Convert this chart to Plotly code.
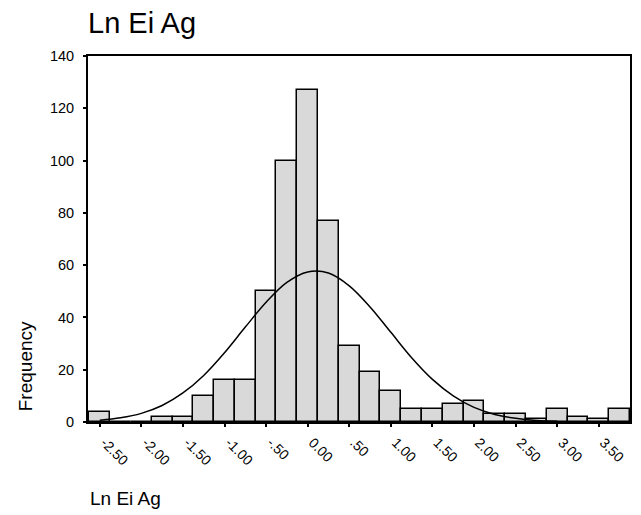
import plotly.graph_objects as go

# Histogram bins (centres) and frequencies
bin_centers = [-2.50, -2.25, -2.00, -1.75, -1.50, -1.25, -1.00, -0.75, -0.50, -0.25,
               0.00, 0.25, 0.50, 0.75, 1.00, 1.25, 1.50, 1.75, 2.00, 2.25,
               2.50, 2.75, 3.00, 3.25, 3.50, 3.75]
frequencies = [4, 0, 0, 2, 2, 10, 16, 16, 50, 100,
               127, 77, 29, 19, 12, 5, 5, 7, 8, 3,
               3, 1, 5, 2, 1, 5]
bin_width = 0.25

# Normal curve
curve_x = [-2.50, -2.25, -2.00, -1.75, -1.50, -1.25, -1.00, -0.75, -0.50, -0.25,
           0.00, 0.25, 0.50, 0.75, 1.00, 1.25, 1.50, 1.75, 2.00, 2.25,
           2.50, 2.75, 3.00]
curve_y = [0.7, 1.6, 3.3, 6.3, 11.1, 17.8, 26.5, 36.3, 45.8, 53.4,
           57.4, 57.0, 52.1, 44.0, 34.3, 24.6, 16.3, 10.0, 5.6, 2.9,
           1.4, 0.6, 0.3]

x_tickvals = [-2.5, -2.0, -1.5, -1.0, -0.5, 0.0, 0.5, 1.0, 1.5, 2.0, 2.5, 3.0, 3.5]
x_ticktext = ["-2.50", "-2.00", "-1.50", "-1.00", "-.50", "0.00", ".50",
              "1.00", "1.50", "2.00", "2.50", "3.00", "3.50"]
y_tickvals = [0, 20, 40, 60, 80, 100, 120, 140]

FONT = "Liberation Sans, Arial, sans-serif"

# plot area in pixels (for placing free text)
PL, PR, PT, PB = 88, 632, 56, 422


def px_to_paper(px, py):
    return (px - PL) / (PR - PL), (PB - py) / (PB - PT)


fig = go.Figure()
fig.add_trace(go.Bar(
    x=bin_centers, y=frequencies, width=bin_width,
    marker=dict(color="#d9d9d9", line=dict(color="black", width=1.5)),
    showlegend=False, hoverinfo="x+y",
))
fig.add_trace(go.Scatter(
    x=curve_x, y=curve_y, mode="lines",
    line=dict(color="black", width=1.5, shape="spline"),
    showlegend=False,
))

fx, fy = px_to_paper(25, 366)
tx, ty = px_to_paper(88, 498)

fig.update_layout(
    width=641, height=515,
    margin=dict(l=PL, r=641 - PR, t=PT, b=515 - PB),
    paper_bgcolor="white", plot_bgcolor="white",
    font=dict(family=FONT, color="black", size=14),
    bargap=0,
    title=dict(text="Ln Ei Ag", font=dict(size=29, family=FONT, color="black"),
               x=0, xanchor="left", xref="paper",
               y=1 - 23 / 515, yanchor="middle"),
    xaxis=dict(
        range=[-2.641, 3.875], tickvals=x_tickvals, ticktext=x_ticktext,
        tickangle=45, ticks="outside", ticklen=3, tickwidth=2, tickcolor="black",
        ticklabelshift=5, ticklabelstandoff=2,
        showline=True, linecolor="black", linewidth=2, mirror=True,
        showgrid=False, zeroline=False, tickfont=dict(size=14),
    ),
    yaxis=dict(
        range=[0, 140], tickvals=y_tickvals, ticks="outside", ticklen=3,
        tickwidth=2, tickcolor="black", ticklabelstandoff=6,
        showline=True, linecolor="black", linewidth=2, mirror=True,
        showgrid=False, zeroline=False, tickfont=dict(size=14.5),
    ),
    annotations=[
        dict(text="Frequency", textangle=-90, x=fx, y=fy,
             xref="paper", yref="paper", showarrow=False,
             xanchor="center", yanchor="middle", font=dict(size=19)),
        dict(text="Ln Ei Ag", x=tx, y=ty,
             xref="paper", yref="paper", showarrow=False,
             xanchor="left", yanchor="middle", font=dict(size=19)),
    ],
)

fig.write_html("out.html")
